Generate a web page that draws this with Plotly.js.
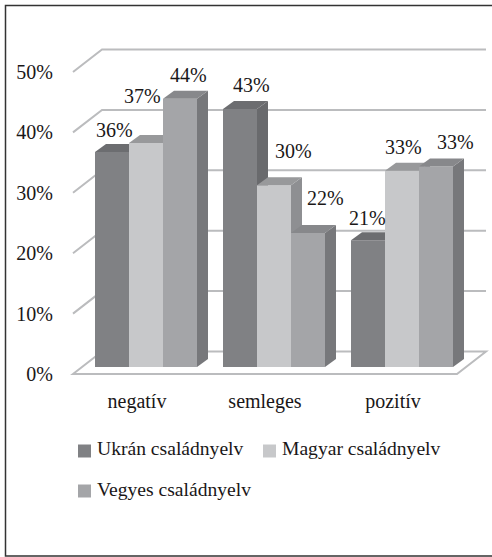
<!DOCTYPE html>
<html>
<head>
<meta charset="utf-8">
<script src="https://cdn.plot.ly/plotly-3.0.1.min.js"></script>
<style>html,body{margin:0;padding:0;background:#fff}#chart{width:492px;height:557px}</style>
</head>
<body>
<div id="chart"></div>
<script>
const categories = ['negatív', 'semleges', 'pozitív'];
const seriesNames = ['Ukrán családnyelv', 'Magyar családnyelv', 'Vegyes családnyelv'];
const ukran = [35.6, 42.7, 21.0];
const magyar = [37.1, 30.1, 32.5];
const vegyes = [44.4, 22.2, 33.2];
const tickValues = [0, 10, 20, 30, 40, 50];
const labelOffsets = [
  [[2, -22], [-4, -47], [8, -24]],
  [[11, -24], [19, -34], [17, -35]],
  [[-1, -22], [1, -24], [19, -24]]
];

const seriesValues = [ukran, magyar, vegyes];
const frontColors = ['#808184', '#c7c8ca', '#a4a5a8'];
const topColors = ['#6c6d70', '#98999b', '#87888b'];
const sideColors = ['#696a6d', '#8e8f92', '#77787b'];
const font = '"Liberation Serif", serif';
const textColor = '#1a1718';
const gridColor = '#bbbcbe';

// page geometry
const W = 492, H = 557;
const plotL = 70, plotR = 490, plotT = 40, plotB = 376;
const pxPerCat = 128, pxPerUnit = 6.04;
const xRange = [-0.5 - 3 / pxPerCat, -0.5 + (plotR - 73) / pxPerCat];
const yRange = [-(plotB - 374) / pxPerUnit, (374 - plotT) / pxPerUnit];

const barW = 34 / pxPerCat, firstOff = -42 / pxPerCat + 0;
const barBase = 7 / pxPerUnit, dx = 11 / pxPerCat, dy = 8 / pxPerUnit;
const wallX = 29 / pxPerCat, wallY = 22.5 / pxPerUnit;
const xIdx = categories.map((_, i) => i);

const traces = [];
const annotations = [];
seriesValues.forEach((vals, s) => {
  const xa = s === 0 ? 'x' : 'x' + (s + 1);
  const ya = s === 0 ? 'y' : 'y' + (s + 1);
  const off = firstOff + s * barW;
  traces.push({
    type: 'bar', name: seriesNames[s], x: xIdx, y: vals, base: barBase,
    offset: off, width: barW, xaxis: xa, yaxis: ya,
    marker: {color: frontColors[s], line: {width: 0}}, showlegend: false, hoverinfo: 'skip'
  });
  const sx = [], sy = [], tx = [], ty = [];
  vals.forEach((v, i) => {
    const x0 = i + off, x1 = x0 + barW, b = barBase, t = barBase + v;
    sx.push(x1, x1 + dx, x1 + dx, x1, x1, null);
    sy.push(b, b + dy, t + dy, t, b, null);
    tx.push(x0, x1, x1 + dx, x0 + dx, x0, null);
    ty.push(t, t, t + dy, t + dy, t, null);
    annotations.push({
      xref: 'x', yref: 'y', x: x0 + barW / 2, y: t,
      xanchor: 'center', yanchor: 'middle',
      text: Math.round(v) + '%', showarrow: false,
      xshift: labelOffsets[i][s][0], yshift: -labelOffsets[i][s][1],
      font: {family: font, size: 20, color: textColor}
    });
  });
  [[sx, sy, sideColors[s]], [tx, ty, topColors[s]]].forEach(([px, py, c]) => traces.push({
    type: 'scatter', mode: 'none', x: px, y: py, fill: 'toself', fillcolor: c,
    xaxis: xa, yaxis: ya, showlegend: false, hoverinfo: 'skip'
  }));
});

// back wall gridlines and floor
const shapes = [];
const left = -0.5, right = categories.length - 0.5;
tickValues.forEach(v => {
  const path = v === 0
    ? `M${left},0 L${left + wallX},${wallY} L${right + wallX},${wallY} L${right},0 Z`
    : `M${left},${v} L${left + wallX},${v + wallY} L${right + wallX},${v + wallY}`;
  shapes.push({type: 'path', xref: 'x', yref: 'y', path, layer: 'below',
    line: {color: gridColor, width: 2}});
});
// frame
const toPx = (px, py) => [(px - plotL) / (plotR - plotL), (plotB - py) / (plotB - plotT)];
const fa = toPx(5.5, 556), fb = toPx(497, 5.5);
shapes.push({type: 'rect', xref: 'paper', yref: 'paper', x0: fa[0], y0: fa[1], x1: fb[0], y1: fb[1],
  line: {color: '#333', width: 1.5}, layer: 'above'});

// legend
const legendItems = [[78, 451], [263, 451], [78, 491]];
seriesNames.forEach((n, s) => {
  const [lx, ly] = legendItems[s];
  const a = toPx(lx, ly + 6.5), b = toPx(lx + 13, ly - 6.5);
  shapes.push({type: 'rect', xref: 'paper', yref: 'paper', x0: a[0], y0: a[1], x1: b[0], y1: b[1],
    fillcolor: frontColors[s], line: {width: 0}});
  const t = toPx(lx + 17, ly - 2);
  annotations.push({xref: 'paper', yref: 'paper', x: t[0], y: t[1], xanchor: 'left', yanchor: 'middle',
    text: n, showarrow: false, font: {family: font, size: 19.6, color: textColor}});
});

const hidden = {range: xRange, visible: false, fixedrange: true};
const layout = {
  width: W, height: H, paper_bgcolor: '#fff', plot_bgcolor: 'rgba(0,0,0,0)',
  margin: {l: plotL, r: W - plotR, t: plotT, b: H - plotB},
  showlegend: false, barmode: 'overlay', shapes, annotations,
  xaxis: {range: xRange, tickvals: xIdx, ticktext: categories, showgrid: false, zeroline: false,
    showline: false, ticks: '', ticklabelstandoff: 11, fixedrange: true,
    tickfont: {family: font, size: 20, color: textColor}},
  yaxis: {range: yRange, tickvals: tickValues, ticktext: tickValues.map(v => v + '%'), showgrid: false,
    zeroline: false, showline: false, ticks: '', ticklabelstandoff: 16, fixedrange: true,
    tickfont: {family: font, size: 20, color: textColor}},
  xaxis2: {...hidden, overlaying: 'x', anchor: 'y2'},
  xaxis3: {...hidden, overlaying: 'x', anchor: 'y3'},
  yaxis2: {range: yRange, visible: false, fixedrange: true, overlaying: 'y', anchor: 'x2'},
  yaxis3: {range: yRange, visible: false, fixedrange: true, overlaying: 'y', anchor: 'x3'}
};
Plotly.newPlot('chart', traces, layout, {displayModeBar: false, staticPlot: true});
</script>
</body>
</html>
